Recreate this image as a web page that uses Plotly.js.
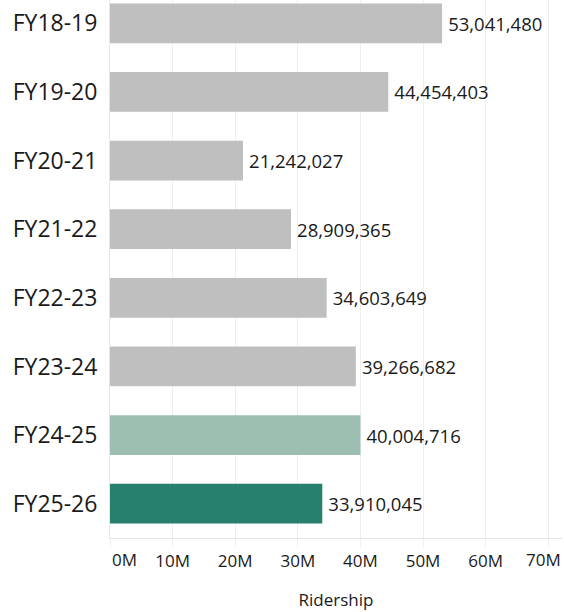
<!DOCTYPE html>
<html>
<head>
<meta charset="utf-8">
<script src="https://cdn.plot.ly/plotly-3.0.1.min.js"></script>
<style>html,body{margin:0;padding:0;background:#fff;}#chart{width:564px;height:612px;}</style>
</head>
<body>
<div id="chart"></div>
<script>
const fiscalYears = ["FY18-19","FY19-20","FY20-21","FY21-22","FY22-23","FY23-24","FY24-25","FY25-26"];
const ridership = [53041480, 44454403, 21242027, 28909365, 34603649, 39266682, 40004716, 33910045];
const tickValues = [0, 10000000, 20000000, 30000000, 40000000, 50000000, 60000000, 70000000];
const tickLabels = ["0M","10M","20M","30M","40M","50M","60M","70M"];

const FONT = "'Open Sans', sans-serif";
const barColors = fiscalYears.map((d, i) =>
  i === fiscalYears.length - 1 ? "#28806c" : (i === fiscalYears.length - 2 ? "#9dbfb1" : "#bfbfbf"));

const lastIdx = tickLabels.length - 1;
const trace = {
  type: "bar",
  orientation: "h",
  y: fiscalYears,
  x: ridership,
  width: 0.58,
  marker: {color: barColors},
  texttemplate: "\u2009%{x:,}",
  textposition: "outside",
  cliponaxis: false,
  textfont: {family: FONT, size: 18.5, color: "#1a1a1a"},
  hoverinfo: "skip"
};

const tickFont = {family: FONT, size: 17, color: "#1a1a1a"};

const layout = {
  width: 564, height: 612,
  margin: {l: 110, r: 2, t: 0, b: 74},
  paper_bgcolor: "#fff", plot_bgcolor: "#fff",
  showlegend: false,
  xaxis: {
    range: [0, 72200000],
    tickvals: tickValues,
    ticktext: tickLabels.map((t, i) => (i === 0 || i === lastIdx) ? "" : t),
    showgrid: true, gridcolor: "#eeeeee", gridwidth: 1,
    zeroline: false,
    showline: true, linecolor: "#e6e6e6", linewidth: 1,
    ticks: "outside", ticklen: 8, tickcolor: "#eeeeee",
    tickfont: tickFont,
    title: {text: "Ridership", font: {family: FONT, size: 17, color: "#1a1a1a"}, standoff: 22},
    fixedrange: true
  },
  yaxis: {
    type: "category",
    categoryorder: "array", categoryarray: fiscalYears,
    range: [7.5, -0.34],
    showgrid: false, zeroline: false,
    showline: true, linecolor: "#e6e6e6", linewidth: 1,
    ticks: "outside", ticklen: 7, tickcolor: "rgba(0,0,0,0)",
    tickfont: {family: FONT, size: 23, color: "#1a1a1a"},
    fixedrange: true
  },
  annotations: [{
    x: tickValues[0], y: 0, xref: "x", yref: "paper", yanchor: "top", xanchor: "left",
    text: tickLabels[0], showarrow: false, xshift: 0, yshift: -8, font: tickFont
  }, {
    x: 1, y: 0, xref: "paper", yref: "paper", yanchor: "top", xanchor: "right",
    text: tickLabels[lastIdx], showarrow: false, xshift: 1, yshift: -8, font: tickFont
  }]
};

Plotly.newPlot("chart", [trace], layout, {displayModeBar: false, staticPlot: true});
</script>
</body>
</html>
